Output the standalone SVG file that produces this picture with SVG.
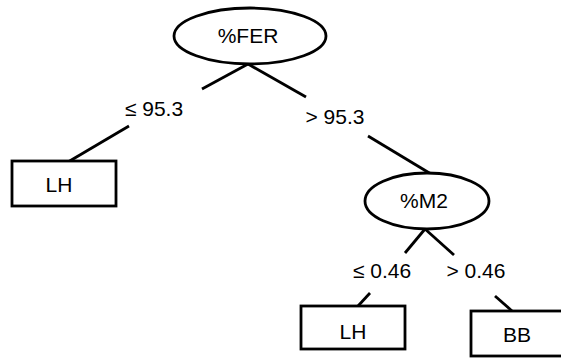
<svg xmlns="http://www.w3.org/2000/svg" width="561" height="358" viewBox="0 0 561 358">
<style>
.n{fill:#fff;stroke:#000;stroke-width:2.8}
.t{font-family:"Liberation Sans",Arial,sans-serif;font-size:21px;fill:#000;text-anchor:middle}
.c line{stroke:#000;stroke-width:2.8;stroke-linecap:butt}
</style>
<rect width="561" height="358" fill="#fff"/>
<g class="c" id="connectors">
<line x1="248" y1="64" x2="202" y2="89"/>
<line x1="248" y1="64" x2="306" y2="97"/>
<line x1="129" y1="126" x2="68" y2="162"/>
<line x1="368" y1="136" x2="431" y2="174"/>
<line x1="425" y1="229" x2="405" y2="253"/>
<line x1="425" y1="229" x2="454" y2="255"/>
<line x1="370" y1="293" x2="358" y2="306"/>
<line x1="495" y1="296" x2="512" y2="311"/>
</g>
<g id="n_fer"><ellipse class="n" cx="250" cy="36" rx="76" ry="28"/><text class="t" x="248" y="43">%FER</text></g>
<g id="e1"><text class="t" x="154" y="116">≤ 95.3</text></g>
<g id="e2"><text class="t" x="335" y="124">&gt; 95.3</text></g>
<g id="n_lh1"><rect class="n" x="12" y="161" width="104" height="45"/><text class="t" x="59" y="192">LH</text></g>
<g id="n_m2"><ellipse class="n" cx="427" cy="201" rx="62" ry="28"/><text class="t" x="424" y="208">%M2</text></g>
<g id="e3"><text class="t" x="382" y="278">≤ 0.46</text></g>
<g id="e4"><text class="t" x="476" y="278">&gt; 0.46</text></g>
<g id="n_lh2"><rect class="n" x="301" y="306" width="104" height="43"/><text class="t" x="353" y="339">LH</text></g>
<g id="n_bb"><rect class="n" x="471" y="311" width="100" height="45"/><text class="t" x="517" y="342">BB</text></g>
</svg>
